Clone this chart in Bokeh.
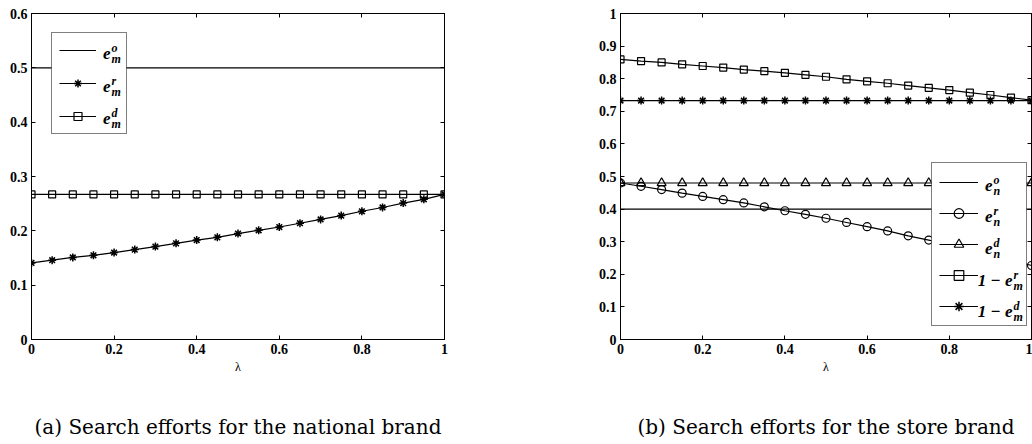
from bokeh.plotting import figure
from bokeh.models import Legend, LegendItem, Label, LinearAxis, FixedTicker, Title, Range1d, BoxAnnotation
from bokeh.layouts import row
from bokeh.embed import file_html
from bokeh.resources import INLINE

# ---------------- data ----------------
lam = [0, 0.05, 0.1, 0.15, 0.2, 0.25, 0.3, 0.35, 0.4, 0.45, 0.5,
       0.55, 0.6, 0.65, 0.7, 0.75, 0.8, 0.85, 0.9, 0.95, 1]

# (a) national brand
em_o = [0.5, 0.5, 0.5, 0.5, 0.5, 0.5, 0.5, 0.5, 0.5, 0.5, 0.5,
        0.5, 0.5, 0.5, 0.5, 0.5, 0.5, 0.5, 0.5, 0.5, 0.5]
em_r = [0.141, 0.146, 0.151, 0.155, 0.160, 0.1655, 0.171, 0.177, 0.183, 0.188, 0.195,
        0.201, 0.207, 0.214, 0.221, 0.228, 0.236, 0.243, 0.251, 0.258, 0.267]
em_d = [0.267, 0.267, 0.267, 0.267, 0.267, 0.267, 0.267, 0.267, 0.267, 0.267, 0.267,
        0.267, 0.267, 0.267, 0.267, 0.267, 0.267, 0.267, 0.267, 0.267, 0.267]

# (b) store brand
en_o = [0.4, 0.4, 0.4, 0.4, 0.4, 0.4, 0.4, 0.4, 0.4, 0.4, 0.4,
        0.4, 0.4, 0.4, 0.4, 0.4, 0.4, 0.4, 0.4, 0.4, 0.4]
en_r = [0.480, 0.470, 0.460, 0.449, 0.439, 0.429, 0.419, 0.407, 0.395, 0.384, 0.372,
        0.359, 0.346, 0.333, 0.318, 0.305, 0.291, 0.276, 0.261, 0.244, 0.227]
en_d = [0.48, 0.48, 0.48, 0.48, 0.48, 0.48, 0.48, 0.48, 0.48, 0.48, 0.48,
        0.48, 0.48, 0.48, 0.48, 0.48, 0.48, 0.48, 0.48, 0.48, 0.48]
one_minus_em_r = [0.859, 0.854, 0.850, 0.844, 0.839, 0.834, 0.828, 0.823, 0.818, 0.812, 0.806,
                  0.798, 0.792, 0.786, 0.779, 0.772, 0.765, 0.757, 0.750, 0.742, 0.734]
one_minus_em_d = [0.733, 0.733, 0.733, 0.733, 0.733, 0.733, 0.733, 0.733, 0.733, 0.733, 0.733,
                  0.733, 0.733, 0.733, 0.733, 0.733, 0.733, 0.733, 0.733, 0.733, 0.733]

x_ticks = [0, 0.2, 0.4, 0.6, 0.8, 1]
x_tick_labels = ["0", "0.2", "0.4", "0.6", "0.8", "1"]
ya_ticks = [0, 0.1, 0.2, 0.3, 0.4, 0.5, 0.6]
ya_tick_labels = ["0", "0.1", "0.2", "0.3", "0.4", "0.5", "0.6"]
yb_ticks = [0, 0.1, 0.2, 0.3, 0.4, 0.5, 0.6, 0.7, 0.8, 0.9, 1]
yb_tick_labels = ["0", "0.1", "0.2", "0.3", "0.4", "0.5", "0.6", "0.7", "0.8", "0.9", "1"]

x_label = "λ"
caption_a = "(a) Search efforts for the national brand"
caption_b = "(b) Search efforts for the store brand"

# legend texts: (prefix, superscript, subscript)
legend_a = [("e", "o", "m"), ("e", "r", "m"), ("e", "d", "m")]
legend_b = [("e", "o", "n"), ("e", "r", "n"), ("e", "d", "n"), ("1 − e", "r", "m"), ("1 − e", "d", "m")]

TICK_FONT = "Liberation Serif"
LEG_FONT = "Liberation Serif"


def style_axis(ax, ticks, labels, show_labels=True):
    ax.ticker = FixedTicker(ticks=ticks)
    ax.major_tick_in = 4
    ax.major_tick_out = 0
    ax.minor_tick_line_color = None
    ax.axis_line_color = "black"
    ax.major_tick_line_color = "black"
    if show_labels:
        ax.major_label_overrides = dict(zip(ticks, labels))
        ax.major_label_text_font = TICK_FONT
        ax.major_label_text_font_style = "bold"
        ax.major_label_text_font_size = "14px"
        ax.major_label_text_color = "black"
        ax.major_label_standoff = 4
    else:
        # tick marks only: labels are neither drawn nor given room
        ax.major_label_text_color = None
        ax.major_label_text_font_size = "1px"
        ax.major_label_standoff = 0


def make_fig(ymax, yticks, ylabels, fw, fh, mbl, mbt, mbr, mbb, caption):
    p = figure(frame_width=fw, frame_height=fh,
               x_range=Range1d(0, 1), y_range=Range1d(0, ymax),
               output_backend="svg", toolbar_location=None,
               min_border_left=mbl, min_border_top=mbt, min_border_right=mbr,
               min_border_bottom=mbb,
               background_fill_color="white", border_fill_color="white")
    p.grid.visible = False
    p.outline_line_color = "black"
    p.outline_line_width = 1
    style_axis(p.xaxis[0], x_ticks, x_tick_labels)
    style_axis(p.yaxis[0], yticks, ylabels)
    p.xaxis[0].axis_label = x_label
    p.xaxis[0].axis_label_text_font = TICK_FONT
    p.xaxis[0].axis_label_text_font_style = "normal"
    p.xaxis[0].axis_label_text_font_size = "12px"
    p.xaxis[0].axis_label_text_color = "black"
    p.xaxis[0].axis_label_standoff = 3
    top = LinearAxis()
    style_axis(top, x_ticks, x_tick_labels, show_labels=False)
    p.add_layout(top, "above")
    right = LinearAxis()
    style_axis(right, yticks, ylabels, show_labels=False)
    p.add_layout(right, "right")
    t = Title(text=caption, align="center", text_font="DejaVu Serif",
              text_font_size="20px", text_font_style="normal", text_color="black",
              standoff=72)
    p.add_layout(t, "below")
    return p


def add_legend(p, items, box_left, box_top, box_w, box_h, fh, **kw):
    # white backing box (hides the curves under the legend), drawn below legend and texts
    p.add_layout(BoxAnnotation(left=box_left, right=box_left + box_w,
                               top=fh - box_top, bottom=fh - box_top - box_h,
                               left_units="screen", right_units="screen",
                               top_units="screen", bottom_units="screen",
                               fill_color="white", fill_alpha=1.0, line_color=None,
                               level="glyph", editable=False))
    leg = Legend(items=items, location=(box_left, fh - box_top - box_h),
                 label_standoff=5, label_text_font_size="8px",
                 border_line_color="black", border_line_width=1.2,
                 background_fill_alpha=0.0, margin=0, **kw)
    p.add_layout(leg)


def add_legend_text(p, box_left, box_top, fh, row_offsets, entries, e_right_plain, e_right_long):
    for off, (pre, sup, sub) in zip(row_offsets, entries):
        yc = fh - (box_top + off)
        ex = box_left + (e_right_long if len(pre) > 1 else e_right_plain)
        common = dict(x_units="screen", y_units="screen", text_baseline="alphabetic",
                      text_font=LEG_FONT, text_font_style="bold italic",
                      text_color="black", level="overlay")
        p.add_layout(Label(x=ex, y=yc - 4, text=pre, text_align="right",
                           text_font_size="17px", **common))
        p.add_layout(Label(x=ex + 1, y=yc + 2, text=sup, text_align="left",
                           text_font_size="12px", **common))
        p.add_layout(Label(x=ex + 1, y=yc - 9, text=sub, text_align="left",
                           text_font_size="12px", **common))


# ---------------- (a) ----------------
FW_A, FH_A = 413, 326
pa = make_fig(0.6, ya_ticks, ya_tick_labels, FW_A, FH_A, 31, 13, 50, 105, caption_a)

la_o = pa.line(lam, em_o, line_color="black", line_width=1.2)
la_r = pa.line(lam, em_r, line_color="black", line_width=1.2)
sa_r = pa.scatter(lam, em_r, marker="asterisk", size=8, line_color="black", line_width=1.5)
la_d = pa.line(lam, em_d, line_color="black", line_width=1.2)
sa_d = pa.scatter(lam, em_d, marker="square", size=7, fill_color=None, line_color="black", line_width=1.2)

BOX_L_A, BOX_T_A = 20, 19
add_legend(pa, [LegendItem(label=" ", renderers=[la_o]),
                LegendItem(label=" ", renderers=[la_r, sa_r]),
                LegendItem(label=" ", renderers=[la_d, sa_d])],
           BOX_L_A, BOX_T_A, 75, 102, FH_A,
           padding=7, spacing=13, glyph_width=37, glyph_height=20,
           label_height=20, label_width=18)
add_legend_text(pa, BOX_L_A, BOX_T_A, FH_A, [17, 50, 82], legend_a, 59, 59)

# ---------------- (b) ----------------
FW_B, FH_B = 411, 326
# left figure total width = 31 + 413 + 50 = 494  -> right frame starts at 494 + 126 = 620
pb = make_fig(1.0, yb_ticks, yb_tick_labels, FW_B, FH_B, 126, 13, 1, 105, caption_b)

lb_o = pb.line(lam, en_o, line_color="black", line_width=1.2)
lb_r = pb.line(lam, en_r, line_color="black", line_width=1.2)
sb_r = pb.scatter(lam, en_r, marker="circle", size=8, fill_color=None, line_color="black", line_width=1.2)
lb_d = pb.line(lam, en_d, line_color="black", line_width=1.2)
sb_d = pb.scatter(lam, en_d, marker="triangle", size=9, fill_color=None, line_color="black", line_width=1.2)
lb_1r = pb.line(lam, one_minus_em_r, line_color="black", line_width=1.2)
sb_1r = pb.scatter(lam, one_minus_em_r, marker="square", size=7, fill_color=None, line_color="black", line_width=1.2)
lb_1d = pb.line(lam, one_minus_em_d, line_color="black", line_width=1.2)
sb_1d = pb.scatter(lam, one_minus_em_d, marker="asterisk", size=8, line_color="black", line_width=1.5)

BOX_L_B, BOX_T_B = 311, 149
add_legend(pb, [LegendItem(label=" ", renderers=[lb_o]),
                LegendItem(label=" ", renderers=[lb_r, sb_r]),
                LegendItem(label=" ", renderers=[lb_d, sb_d]),
                LegendItem(label=" ", renderers=[lb_1r, sb_1r]),
                LegendItem(label=" ", renderers=[lb_1d, sb_1d])],
           BOX_L_B, BOX_T_B, 95, 164, FH_B,
           padding=7, spacing=7, glyph_width=39, glyph_height=24,
           label_height=24, label_width=36)
add_legend_text(pb, BOX_L_B, BOX_T_B, FH_B, [19, 50, 82, 114, 145], legend_b, 61, 81)

layout = row(pa, pb)
open("out.html", "w").write(file_html(layout, INLINE))
